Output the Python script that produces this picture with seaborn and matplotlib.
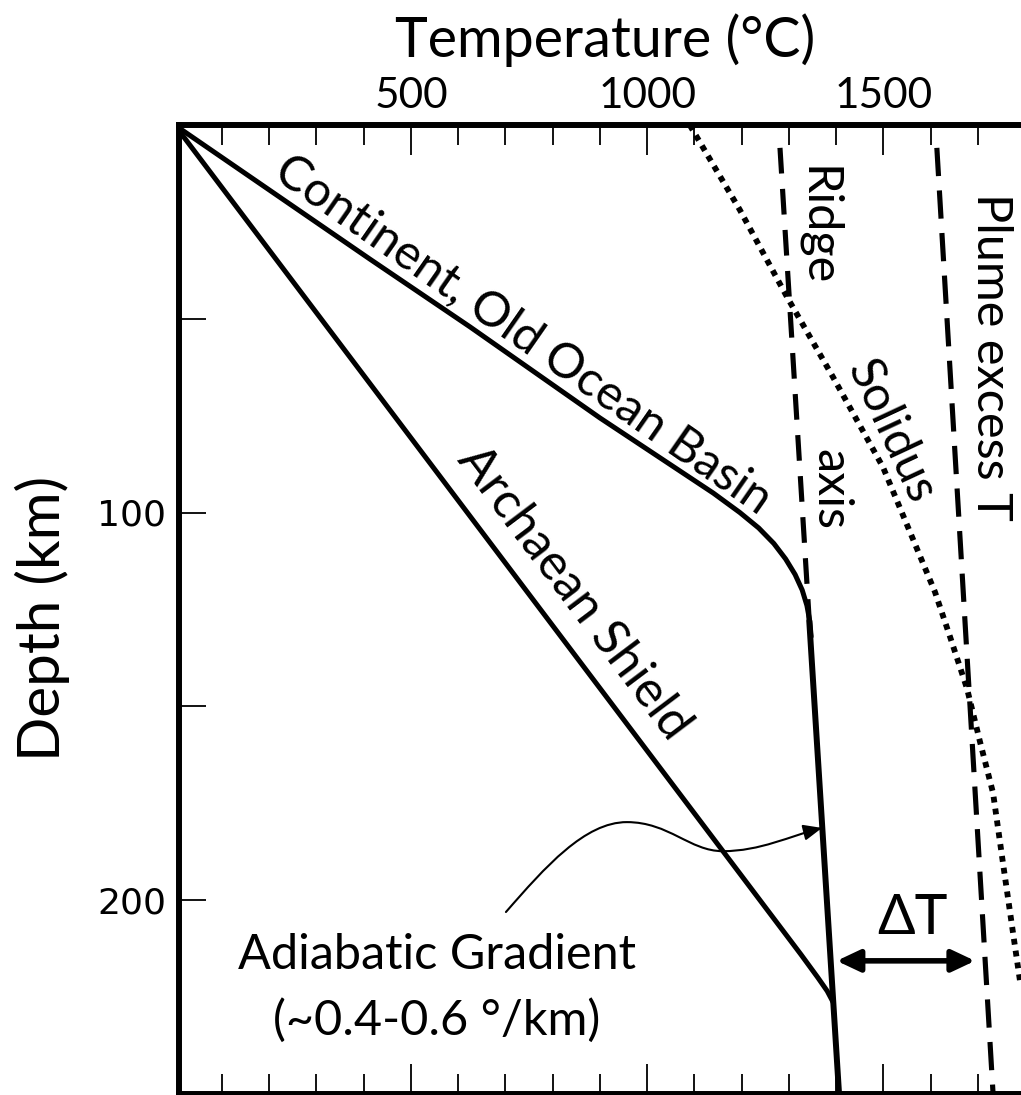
import matplotlib
matplotlib.use("Agg")
import matplotlib.pyplot as plt
from matplotlib.path import Path
from matplotlib.patches import FancyArrowPatch
from matplotlib.ticker import FixedLocator
import seaborn as sns

# ---------------- data (temperature in degC, depth in km) ----------------
continent_depth = [0, 34.6, 52.1, 75.6, 95.0, 100.0, 104.0, 108.0, 112.0, 116.0,
                   120.0, 124.0, 128.0, 132.0]
continent_temp = [0, 413, 625, 900, 1140, 1196, 1236, 1268, 1293, 1313,
                  1328, 1338, 1344, 1347]

archaean_depth = [0, 214.0, 220.0, 223.5, 226.5]
archaean_temp = [0, 1325, 1361, 1381, 1394]

adiabat_depth = [128, 250]
adiabat_temp = [1343, 1406]

ridge_depth = [5.9, 128]
ridge_temp = [1281, 1343]

plume_depth = [5.9, 250]
plume_temp = [1613, 1732]

solidus_depth = [0, 21.9, 44.4, 65.0, 88.3, 120.5, 132.1, 145.5, 159.0, 172.4, 190.5, 208.3, 220.9]
solidus_temp = [1090, 1196, 1296, 1393, 1499, 1609, 1641, 1677, 1704, 1732, 1753, 1774, 1789]

x_major = [500, 1000, 1500]
x_minor = [100, 200, 300, 400, 600, 700, 800, 900, 1100, 1200, 1300, 1400, 1600, 1700]
y_ticks = [50, 100, 150, 200]
y_ticklabels = ["", "100", "", "200"]

# annotation geometry
adiabat_arrow_path = [(701, 203.1), (784, 191.5), (868, 179.9), (957, 179.9),
                      (1046, 179.9), (1090, 187.4), (1160, 187.4),
                      (1239, 187.4), (1302, 183.5), (1370, 181.4)]
dT_depth, dT_left, dT_right = 215.7, 1401, 1694

labels = [
    ("Continent, Old Ocean Basin", 738, 54.0, -34.8, 35),
    ("Archaean Shield", 845, 120.8, -53.0, 36),
    ("Ridge", 1362, 26.1, -90, 35),
    ("axis", 1387, 94.0, -90, 35),
    ("Solidus", 1516, 79.0, -65.0, 35),
    ("Plume excess T", 1727, 59.9, -90, 35),
    ("Adiabatic Gradient", 555, 214.2, 0, 35),
    ("(~0.4-0.6 °/km)", 555, 231.2, 0, 35),
    ("ΔT", 1562, 204.9, 0, 40),
]

# ---------------- style ----------------
sns.set_theme(style="white")
plt.rcParams["font.family"] = ["Lato", "DejaVu Sans"]
for key in ["text.color", "axes.labelcolor", "xtick.color", "ytick.color",
            "axes.edgecolor"]:
    plt.rcParams[key] = "black"

W, H = 1021, 1095
fig = plt.figure(figsize=(W / 100, H / 100), dpi=100)
ax = fig.add_axes([178.5 / W, 1 - 1093.75 / H, 846.7 / W, 968.75 / H])

LW = 3.6
def draw(x, y, lw=LW, ls="-"):
    sns.lineplot(x=x, y=y, sort=False, estimator=None, ax=ax, color="black",
                 linewidth=lw, linestyle=ls, solid_capstyle="round",
                 solid_joinstyle="round", dash_capstyle="butt")

draw(continent_temp, continent_depth)
draw(archaean_temp, archaean_depth)
draw(adiabat_temp, adiabat_depth, lw=4.3)
draw(ridge_temp, ridge_depth, lw=3.7, ls=(0, (5.0, 3.0)))
draw(plume_temp, plume_depth, lw=3.7, ls=(0, (5.5, 2.8)))
draw(solidus_temp, solidus_depth, lw=4.2, ls=(0, (1.0, 1.05)))

ax.set_xlim(8, 1800)
ax.set_ylim(250, 0)

# ticks
ax.xaxis.set_major_locator(FixedLocator(x_major))
ax.xaxis.set_minor_locator(FixedLocator(x_minor))
ax.tick_params(axis="x", which="both", direction="in", top=True, bottom=True,
               labeltop=True, labelbottom=False, color="black", width=1.3,
               labelcolor="black")
ax.tick_params(axis="x", which="major", length=21.5, pad=7, labelsize=30.5)
ax.tick_params(axis="x", which="minor", length=14.5)
ax.yaxis.set_major_locator(FixedLocator(y_ticks))
ax.set_yticklabels(y_ticklabels)
ax.tick_params(axis="y", which="major", direction="in", left=True, right=False,
               length=19.5, width=1.3, pad=9, labelsize=26, color="black",
               labelcolor="black")
for lab in ax.get_yticklabels():
    lab.set_fontfamily("DejaVu Sans")

for s in ["top", "left", "bottom"]:
    ax.spines[s].set_linewidth(4.3)
    ax.spines[s].set_color("black")
ax.spines["right"].set_visible(False)

# axis labels
ax.xaxis.set_label_position("top")
ax.set_xlabel("Temperature (°C)", fontsize=40, color="black")
ax.xaxis.label.set_verticalalignment("baseline")
ax.xaxis.set_label_coords(0.5037, 1.0702)
ax.set_ylabel("Depth (km)", fontsize=42, color="black")
ax.yaxis.label.set_verticalalignment("center")
ax.yaxis.set_label_coords(-0.1612, 0.4911)

# text labels
for txt, t, d, rot, fs in labels:
    ax.text(t, d, txt, rotation=rot, rotation_mode="anchor", ha="center",
            va="center", fontsize=fs, color="black")

# curved pointer arrow
codes = [Path.MOVETO] + [Path.CURVE4] * (len(adiabat_arrow_path) - 1)
arrow = FancyArrowPatch(path=Path(adiabat_arrow_path, codes),
                        arrowstyle="-|>,head_length=0.7,head_width=0.3",
                        mutation_scale=16, lw=1.5, color="black")
ax.add_patch(arrow)

# delta T arrow
ax.annotate("", xy=(dT_right, dT_depth), xytext=(dT_left, dT_depth),
            arrowprops=dict(arrowstyle="<|-|>,head_length=0.7,head_width=0.33",
                            mutation_scale=20, lw=4.0, color="black",
                            shrinkA=0, shrinkB=0))

fig.savefig("out.png", dpi=100)
